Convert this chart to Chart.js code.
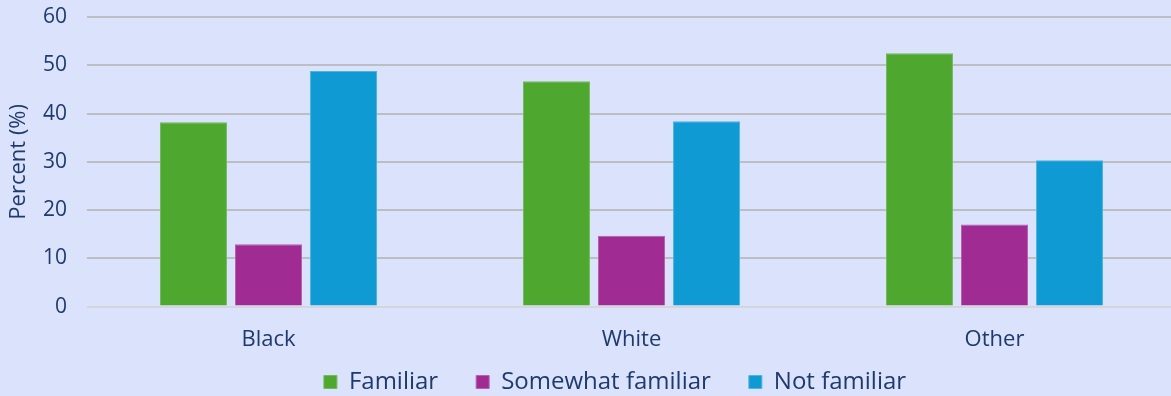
<!DOCTYPE html>
<html>
<head>
<meta charset="utf-8">
<script src="https://cdn.jsdelivr.net/npm/chart.js@4/dist/chart.umd.min.js"></script>
<style>
  html, body { margin: 0; padding: 0; overflow: hidden; background: #dae2fc; }
  #wrap { width: 1176px; height: 396px; position: relative; }
</style>
</head>
<body>
<div id="wrap"><canvas id="familiarityChart"></canvas></div>
<script>
var groups = ['Black', 'White', 'Other'];
var familiar = [38.2, 46.7, 52.5];
var somewhatFamiliar = [12.9, 14.7, 17.0];
var notFamiliar = [48.8, 38.4, 30.3];
var yTicks = [0, 10, 20, 30, 40, 50, 60];

var textColor = '#1f3a6c';
var font = "'Open Sans', 'Noto Sans', sans-serif";

// legend keeps wide gaps between items but sits close under the axis labels
var legendNudge = {
    id: 'legendNudge',
    afterLayout: function (chart) {
        var lg = chart.legend;
        lg.left += 27;
        lg.right += 27;
        lg.top -= 41;
    }
};

var ctx = document.getElementById('familiarityChart').getContext('2d');

new Chart(ctx, {
    type: 'bar',
    data: {
        labels: groups,
        datasets: [{
            label: 'Familiar',
            data: familiar,
            backgroundColor: '#4ea72e',
            borderColor: '#72bb5a',
            borderWidth: 1,
        }, {
            label: 'Somewhat familiar',
            data: somewhatFamiliar,
            backgroundColor: '#a02b93',
            borderColor: '#b760ad',
            borderWidth: 1,
        }, {
            label: 'Not familiar',
            data: notFamiliar,
            backgroundColor: '#0f9ad3',
            borderColor: '#4db3df',
            borderWidth: 1,
        }],
    },
    options: {
        responsive: true,
        maintainAspectRatio: false,
        animation: false,
        layout: {
            padding: { top: 17, right: 0, bottom: 0, left: 0 },
        },
        datasets: {
            bar: {
                categoryPercentage: 0.62,
                barPercentage: 0.893,
            },
        },
        plugins: {
            legend: {
                display: true,
                position: 'bottom',
                maxHeight: 23,
                labels: {
                    color: textColor,
                    boxWidth: 13,
                    boxHeight: 13,
                    padding: 38,
                    font: { family: font, size: 24 },
                },
            },
            tooltip: {
                enabled: false,
            },
        },
        scales: {
            x: {
                grid: { display: false, drawTicks: false },
                border: { display: false },
                ticks: {
                    color: textColor,
                    padding: 20,
                    font: { family: font, size: 22 },
                },
            },
            y: {
                min: 0,
                max: 60,
                afterBuildTicks: function (scale) {
                    scale.ticks = yTicks.map(v => ({ value: v }));
                },
                grid: {
                    drawTicks: false,
                    lineWidth: 2,
                    color: function (c) {
                        return c.tick && c.tick.value === 0 ? '#d4d6dc' : '#bcbec4';
                    },
                },
                border: { display: false },
                ticks: {
                    color: textColor,
                    padding: 20,
                    font: { family: font, size: 21 },
                },
                title: {
                    display: true,
                    text: 'Percent (%)',
                    color: textColor,
                    padding: { top: 6, bottom: 0 },
                    font: { family: font, size: 22 },
                },
                afterFit: function (scale) {
                    scale.width = 87;
                    scale.paddingTop = 0;
                    scale.paddingBottom = 0;
                },
            },
        },
    },
    plugins: [legendNudge],
});
</script>
</body>
</html>
